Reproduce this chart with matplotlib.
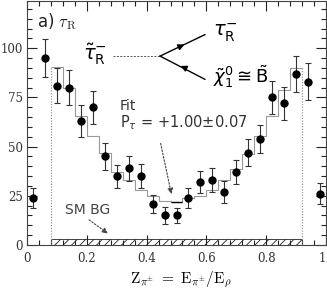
import matplotlib
matplotlib.use("Agg")
import matplotlib.pyplot as plt
from matplotlib.ticker import MultipleLocator

# ---- data ----
z_centers = [0.02, 0.06, 0.10, 0.14, 0.18, 0.22, 0.26, 0.30, 0.34, 0.38, 0.42, 0.46, 0.50,
             0.54, 0.58, 0.62, 0.66, 0.70, 0.74, 0.78, 0.82, 0.86, 0.90, 0.94, 0.98]
counts = [24, 95, 81, 80, 63, 70, 45, 35, 39, 35, 21, 15, 15,
          24, 32, 33, 27, 37, 47, 54, 75, 72, 87, 83, 26]
errors = [5, 9.5, 9, 9, 8, 8.4, 6.7, 5.9, 6.3, 6.1, 4.6, 4.2, 4,
          5, 5.6, 5.9, 5.7, 6, 7, 7, 8.4, 8.4, 9.3, 9.3, 5.3]

fit_edges = [0.08, 0.12, 0.16, 0.20, 0.24, 0.28, 0.32, 0.36, 0.40, 0.44, 0.48,
             0.52, 0.56, 0.60, 0.64, 0.68, 0.72, 0.76, 0.80, 0.84, 0.88, 0.92]
fit_values = [90.4, 80, 65.7, 55.5, 47, 37, 33, 28, 24.7, 22.2, 22,
              24, 25, 28, 32.8, 38.7, 46.3, 55.5, 65.7, 79, 90]
bg_level = 3

xticks = [0, 0.2, 0.4, 0.6, 0.8, 1]
xticklabels = ["0", "0.2", "0.4", "0.6", "0.8", "1"]
yticks = [0, 25, 50, 75, 100]
yticklabels = ["0", "25", "50", "75", "100"]

plt.rcParams["hatch.linewidth"] = 0.6

fig = plt.figure(figsize=(3.27, 2.93), dpi=100)
ax = fig.add_axes([27/327, 48/293, 299/327, 244/293])
ax.set_xlim(0, 1)
ax.set_ylim(0, 124)

# SM background (hatched)
ax.fill_between([fit_edges[0], fit_edges[-1]], 0, bg_level, facecolor="white",
                edgecolor="#222222", hatch="////", linewidth=0.6, zorder=1)

# Fit histogram
ax.stairs(fit_values, fit_edges, baseline=None, color="#999999", linewidth=0.8, zorder=2)
ax.vlines([fit_edges[0]], 0, fit_values[0], colors="#999999", linestyles=(0, (1, 1.2)),
          linewidth=0.9, zorder=2)
ax.vlines([fit_edges[-1]], 0, fit_values[-1], colors="#999999", linestyles=(0, (1, 1.2)),
          linewidth=0.9, zorder=2)
imin = fit_values.index(min(fit_values))
ax.hlines(fit_values[imin], fit_edges[imin], fit_edges[imin + 1], colors="black",
          linewidth=1.0, zorder=3)

# data points
ax.errorbar(z_centers, counts, yerr=errors, fmt="o", color="black", ecolor="#333333",
            markersize=5, elinewidth=0.8, capsize=2.2, capthick=0.8, zorder=4)

# ticks
ax.set_xticks(xticks)
ax.set_xticklabels(xticklabels)
ax.set_yticks(yticks)
ax.set_yticklabels(yticklabels)
ax.xaxis.set_minor_locator(MultipleLocator(0.04))
ax.yaxis.set_minor_locator(MultipleLocator(5))
ax.tick_params(which="both", direction="in", top=True, right=True, width=0.8,
               colors="#222222")
ax.tick_params(which="major", length=7)
ax.tick_params(which="minor", length=3.5)
ax.tick_params(axis="x", pad=5)
ax.tick_params(axis="y", pad=3)
for lab in ax.get_xticklabels() + ax.get_yticklabels():
    lab.set_fontfamily("DejaVu Serif")
    lab.set_fontsize(8.5)
    lab.set_color("#333333")
ax.get_xticklabels()[-1].set_horizontalalignment("right")
for sp in ax.spines.values():
    sp.set_linewidth(0.8)
    sp.set_color("#444444")

# x label
ax.text(0.515, -0.14, r"$\mathrm{Z}_{\pi^{\pm}}\ =\ \mathrm{E}_{\pi^{\pm}}/\mathrm{E}_{\rho}$",
        transform=ax.transAxes, ha="center", va="center", fontsize=11,
        math_fontfamily="cm")

# panel label
ax.text(0.033, 113.5, r"a) $\tau_{\mathrm{R}}$", ha="left", va="center", fontsize=12,
        color="#222222", math_fontfamily="cm")

# decay diagram
ax.text(0.187, 97.2, r"$\tilde{\tau}_{\mathrm{R}}^{-}$", ha="left", va="center",
        fontsize=14, math_fontfamily="dejavusans")
ax.plot([0.289, 0.445], [96, 96], color="#555555", linestyle=(0, (2, 1.5)), linewidth=0.7)
ax.plot([0.445, 0.595], [96, 106.9], color="black", linewidth=1.0)
ax.plot([0.445, 0.595], [96, 84.2], color="black", linewidth=1.0)
ax.annotate("", xy=(0.535, 102.5), xytext=(0.505, 100.4),
            arrowprops=dict(arrowstyle="-|>", color="black", lw=1.0, mutation_scale=9))
ax.annotate("", xy=(0.505, 91.6), xytext=(0.535, 89.5),
            arrowprops=dict(arrowstyle="-|>", color="black", lw=1.0, mutation_scale=9))
ax.text(0.622, 107.8, r"$\tau_{\mathrm{R}}^{-}$", ha="left", va="center",
        fontsize=14, math_fontfamily="dejavusans")
ax.text(0.622, 85.5, r"$\tilde{\chi}_{1}^{0} \cong \tilde{\mathrm{B}}$", ha="left",
        va="center", fontsize=13, math_fontfamily="dejavusans")

# fit annotation
ax.text(0.31, 70.5, "Fit", ha="left", va="center", fontsize=10, color="#333333")
ax.text(0.31, 62, r"P$_{\tau}$ = +1.00±0.07", ha="left", va="center", fontsize=10.5,
        color="#333333", math_fontfamily="dejavusans")
ax.annotate("", xy=(0.485, 24.5), xytext=(0.445, 53),
            arrowprops=dict(arrowstyle="-|>", color="#444444", lw=0.8,
                            linestyle=(0, (1.5, 1.5)), mutation_scale=8))

# SM BG annotation
ax.text(0.202, 17.7, "SM BG", ha="center", va="center", fontsize=10, color="#444444")
ax.annotate("", xy=(0.278, 5), xytext=(0.2, 13.6),
            arrowprops=dict(arrowstyle="-|>", color="#444444", lw=0.8,
                            linestyle=(0, (1.5, 1.5)), mutation_scale=8))

fig.savefig("out.png", dpi=100)
